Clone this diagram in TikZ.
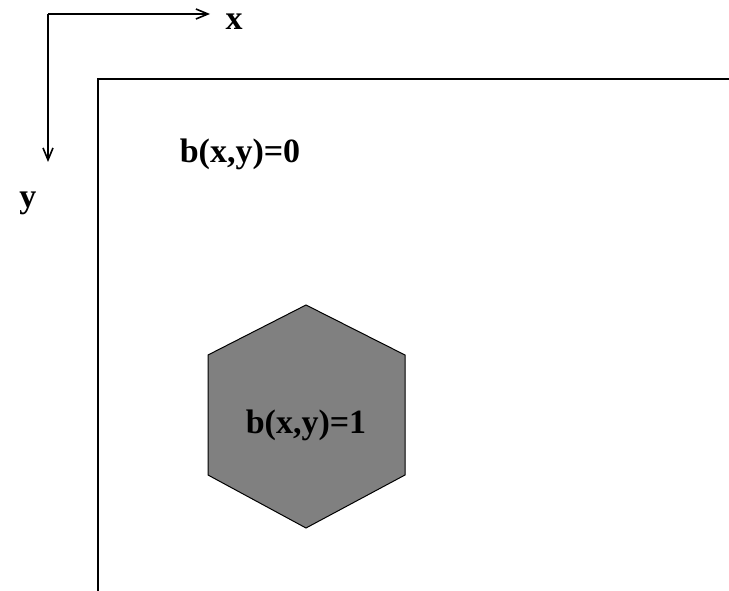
\documentclass[tikz,border=0pt]{standalone}
\usepackage{fontspec}
\setmainfont{Liberation Serif}
\usetikzlibrary{arrows.meta}
\begin{document}
\begin{tikzpicture}[x=1pt,y=-1pt,
  lbl/.style={font=\fontsize{34}{36}\selectfont\bfseries, inner sep=0pt},
  axis/.style={line width=2pt, -{Straight Barb[length=12pt,width=10pt,line width=1.6pt]}},
  frame/.style={line width=2pt}]
\useasboundingbox (0,0) rectangle (729,591);
\coordinate (o) at (48,14);
\coordinate (xe) at (210,14);
\coordinate (ye) at (48,162);
\draw[axis] (o) -- (xe);
\draw[axis] (o) -- (ye);
\node[lbl] (xl) at (234,22) {x};
\node[lbl] (yl) at (28,203) {y};
\draw[frame] (98,591) -- (98,79) -- (729,79);
\node[lbl] (b0) at (240,154) {b(x,y)=0};
\draw[fill={rgb,255:red,128;green,128;blue,128}, line width=1pt]
  (306,305) -- (405,355) -- (405,475) -- (306,528) -- (208,475) -- (208,355) -- cycle;
\node[lbl] (b1) at (306,425) {b(x,y)=1};
\end{tikzpicture}
\end{document}
